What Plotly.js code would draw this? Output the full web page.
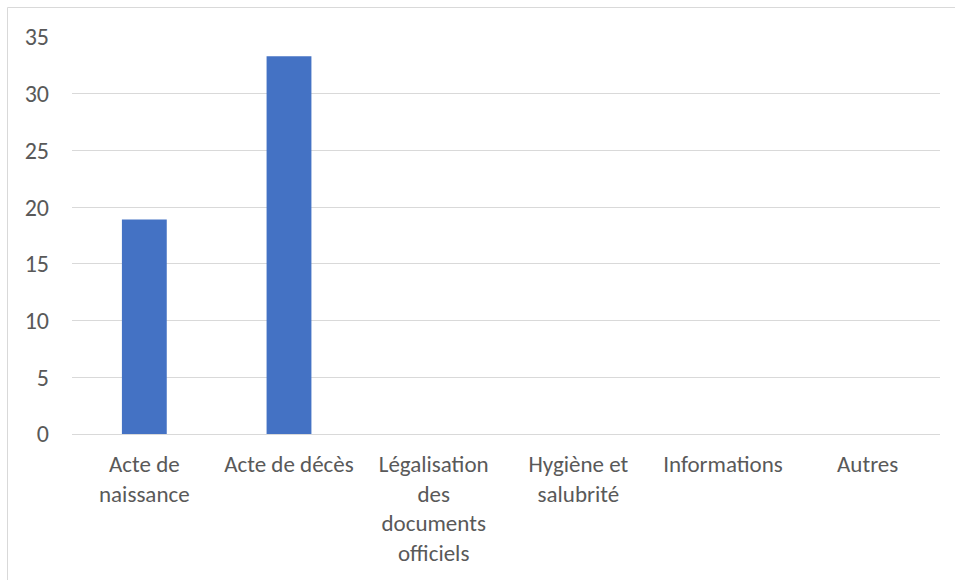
<!DOCTYPE html>
<html>
<head>
<meta charset="utf-8">
<script src="https://cdn.plot.ly/plotly-3.0.1.min.js"></script>
<style>html,body{margin:0;padding:0;background:#fff;}#chart{width:955px;height:580px;}</style>
</head>
<body>
<div id="chart"></div>
<script>
const categories = ["Acte de naissance", "Acte de décès", "Légalisation des documents officiels", "Hygiène et salubrité", "Informations", "Autres"];
const tickLabels = ["Acte de<br>naissance", "Acte de décès", "Légalisation<br>des<br>documents<br>officiels", "Hygiène et<br>salubrité", "Informations", "Autres"];
const values = [18.9, 33.3, 0, 0, 0, 0];
const yTicks = [0, 5, 10, 15, 20, 25, 30, 35];

const font = "Carlito, 'Liberation Sans Narrow', 'Open Sans', sans-serif";
const L = 72, R = 15, T = 37, B = 146, W = 955, H = 580;
const pw = W - L - R, ph = H - T - B;

Plotly.newPlot("chart", [{
  type: "bar",
  x: categories,
  y: values,
  marker: {color: "#4472c4"},
  hoverinfo: "x+y"
}], {
  width: W, height: H,
  margin: {l: L, r: R, t: T, b: B, pad: 0},
  paper_bgcolor: "#fff",
  plot_bgcolor: "#fff",
  bargap: 0.69,
  showlegend: false,
  font: {family: font, color: "#595959", size: 23},
  xaxis: {
    type: "category",
    tickvals: categories,
    ticktext: tickLabels,
    showgrid: false,
    zeroline: false,
    showline: true,
    linecolor: "#d9d9d9",
    linewidth: 1,
    ticks: "",
    ticklabelstandoff: 9,
    tickfont: {family: font, size: 23, color: "#595959"},
    tickangle: 0,
    automargin: false
  },
  yaxis: {
    range: [0, 35],
    tickvals: yTicks,
    showgrid: true,
    gridcolor: "#d9d9d9",
    gridwidth: 1,
    zeroline: false,
    showline: false,
    ticks: "",
    ticklabelstandoff: 22,
    tickfont: {family: font, size: 24, color: "#595959"},
    automargin: false
  },
  shapes: [{
    type: "rect", xref: "paper", yref: "paper",
    x0: (7.5 - L) / pw, x1: (970 - L) / pw,
    y0: (H - B - 600) / ph, y1: (H - B - 7.5) / ph,
    line: {color: "#d9d9d9", width: 1},
    fillcolor: "rgba(0,0,0,0)",
    layer: "below"
  }]
}, {displayModeBar: false});
</script>
</body>
</html>
